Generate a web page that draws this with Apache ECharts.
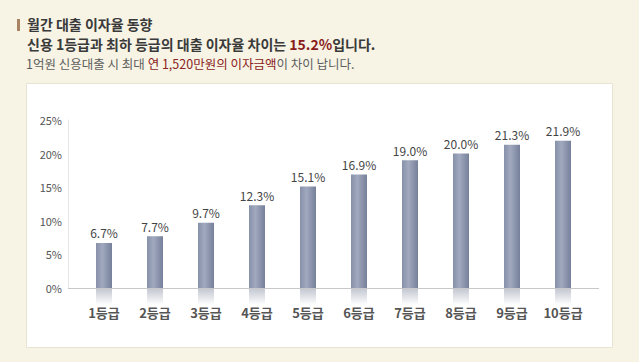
<!DOCTYPE html>
<html><head><meta charset="utf-8">
<script src="https://cdn.jsdelivr.net/npm/echarts@6/dist/echarts.min.js"></script>
<style>html,body{margin:0;padding:0;background:#f7f4e5;}#c{width:639px;height:362px;}</style>
</head><body><div id="c"></div>
<script>
const categories = ['1등급','2등급','3등급','4등급','5등급','6등급','7등급','8등급','9등급','10등급'];
const rates = [6.7, 7.7, 9.7, 12.3, 15.1, 16.9, 19.0, 20.0, 21.3, 21.9];
const yTicks = [0, 5, 10, 15, 20, 25];
const titleText = '월간 대출 이자율 동향';

const font = '"Noto Sans CJK KR", "Noto Sans", sans-serif';
const chart = echarts.init(document.getElementById('c'), null, {renderer: 'svg'});
chart.setOption({
  backgroundColor: '#f7f4e5',
  animation: false,
  textStyle: {fontFamily: font},
  title: [
    {text: titleText, left: 27, top: 16, padding: 0, textStyle: {fontSize: 14, fontWeight: 'bold', color: '#3a3a3a', fontFamily: font, lineHeight: 15}},
    {text: '{a|신용 1등급과 최하 등급의 대출 이자율 차이는 }{b|15.2%}{a|입니다.}', left: 27, top: 36.5, padding: 0,
      textStyle: {lineHeight: 14, rich: {
        a: {fontSize: 14, fontWeight: 'bold', color: '#3a3a3a', fontFamily: font, lineHeight: 14},
        b: {fontSize: 14, fontWeight: 'bold', color: '#8a1c1c', fontFamily: font, lineHeight: 14}}}},
    {text: '{a|1억원 신용대출 시 최대 }{b|연 1,520만원의 이자금액}{a|이 차이 납니다.}', left: 26, top: 56.5, padding: 0,
      textStyle: {fontWeight: 'normal', lineHeight: 13, rich: {
        a: {fontSize: 12.5, fontWeight: 'normal', color: '#5e5e5e', fontFamily: font, lineHeight: 13},
        b: {fontSize: 12.5, fontWeight: 'normal', color: '#8a2222', fontFamily: font, lineHeight: 13}}}}
  ],
  graphic: [
    {type: 'rect', shape: {x: 17, y: 19, width: 3, height: 12}, style: {fill: '#a98463'}},
    {type: 'rect', z: -10, shape: {x: 26.5, y: 83.5, width: 586, height: 264}, style: {fill: '#ffffff', stroke: '#e8e4d3', lineWidth: 1}},
    {type: 'line', z: 10, shape: {x1: 68, y1: 288.5, x2: 599, y2: 288.5}, style: {stroke: '#c8c8c8', lineWidth: 1}}
  ],
  grid: {left: 78.5, right: 50.5, top: 120, bottom: 74},
  xAxis: {
    type: 'category', data: categories,
    axisLine: {show: false}, axisTick: {show: false},
    axisLabel: {interval: 0, margin: 18, fontSize: 13, fontWeight: 'bold', color: '#555', fontFamily: font}
  },
  yAxis: {
    type: 'value', min: yTicks[0], max: yTicks[yTicks.length-1], interval: 5, offset: 10.5,
    axisLine: {show: true, lineStyle: {color: '#e6e6e6'}}, axisTick: {show: false},
    splitLine: {show: false},
    axisLabel: {formatter: v => v + '%', fontSize: 11, color: '#555', margin: 6, fontFamily: font}
  },
  series: [
    {
      type: 'bar', data: rates, barWidth: 16,
      itemStyle: {
        color: new echarts.graphic.LinearGradient(0, 0, 1, 0, [
          {offset: 0, color: '#8690a8'}, {offset: 0.4, color: '#a0a9be'}, {offset: 1, color: '#76809a'}
        ])
      },
      label: {show: true, position: 'top', distance: 4, formatter: p => p.value.toFixed(1) + '%', fontSize: 12, color: '#444', fontFamily: font}
    },
    {
      type: 'custom', silent: true,
      data: rates.map((v, i) => [i, v]),
      renderItem: function (params, api) {
        const base = api.coord([api.value(0), 0]);
        return {
          type: 'rect',
          shape: {x: base[0] - 8, y: base[1] + 1, width: 16, height: 16},
          style: {fill: new echarts.graphic.LinearGradient(0, 0, 0, 1, [
            {offset: 0, color: '#c4c8d2'}, {offset: 1, color: 'rgba(255,255,255,1)'}
          ])}
        };
      }
    }
  ]
});
</script></body></html>
